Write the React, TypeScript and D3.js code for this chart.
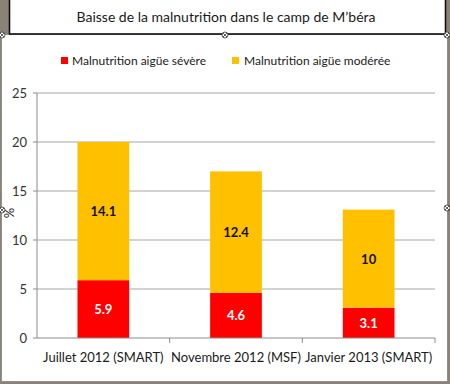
import * as d3 from "d3";

const categories = ["Juillet 2012 (SMART)", "Novembre 2012 (MSF)", "Janvier 2013 (SMART)"];
const severe = [5.9, 4.6, 3.1];
const moderate = [14.1, 12.4, 10];
const seriesNames = ["Malnutrition aigüe sévère", "Malnutrition aigüe modérée"];
const seriesColors = ["#ff0000", "#ffc000"];
const yTicks = [0, 5, 10, 15, 20, 25];

const W = 450;
const H = 384;
const PLOT = { left: 37, right: 435, top: 93, bottom: 338 };
const FONT = "Lato, 'Open Sans', sans-serif";

export default function App() {
  const x = d3
    .scaleBand<string>()
    .domain(categories)
    .range([PLOT.left, PLOT.right])
    .paddingInner(0.61)
    .paddingOuter(0.305);
  const y = d3.scaleLinear().domain([0, 25]).range([PLOT.bottom, PLOT.top]);

  const stack = d3
    .stack<number>()
    .keys(["severe", "moderate"])
    .value((i, key) => (key === "severe" ? severe[i] : moderate[i]));
  const layers = stack(categories.map((_, i) => i));

  // band boundaries for the x tick marks
  const step = x.step();
  const boundaries = categories.map((_, i) => PLOT.left + step * (i + 1));

  const handles = [
    [2, 35],
    [225, 35],
    [447, 35],
    [447, 208],
    [2, 210],
  ];

  return (
    <svg
      width={W}
      height={H}
      style={{ position: "absolute", left: 0, top: 0 }}
      fontFamily={FONT}
    >
      <rect width={W} height={H} fill="#8a8276" />
      {/* chart frame */}
      <rect x={1.5} y={34.5} width={446} height={347} fill="#fff" stroke="#8f8f8f" />
      {/* title box */}
      <rect x={9.5} y={-2} width={436} height={36} fill="#fff" stroke="#111" strokeWidth={1.6} />
      <text x={226} y={22} textAnchor="middle" fontSize={14} fill="#1a1a1a">
        Baisse de la malnutrition dans le camp de M’béra
      </text>

      {/* legend */}
      <g fontSize={12} fill="#1a1a1a">
        <rect x={61} y={57} width={7} height={7} fill={seriesColors[0]} />
        <text x={72} y={65}>{seriesNames[0]}</text>
        <rect x={232} y={57} width={7} height={7} fill={seriesColors[1]} />
        <text x={244} y={65}>{seriesNames[1]}</text>
      </g>

      {/* gridlines */}
      {yTicks.slice(1).map((t) => (
        <line key={t} x1={PLOT.left} x2={PLOT.right} y1={y(t)} y2={y(t)} stroke="#a6a6a6" />
      ))}
      {/* y axis */}
      <line x1={PLOT.left} x2={PLOT.left} y1={PLOT.top} y2={PLOT.bottom} stroke="#8c8c8c" />
      {yTicks.map((t) => (
        <g key={t}>
          <line x1={PLOT.left - 4} x2={PLOT.left} y1={y(t)} y2={y(t)} stroke="#8c8c8c" />
          <text x={27} y={y(t) + 4.5} textAnchor="end" fontSize={13} fill="#333">
            {t}
          </text>
        </g>
      ))}
      <text
        transform={`translate(14,${213}) rotate(-90)`}
        textAnchor="middle"
        fontSize={13}
        fill="#222"
      >
        %
      </text>

      {/* bars */}
      {layers.map((layer, li) =>
        layer.map((d, i) => (
          <rect
            key={`${li}-${i}`}
            x={x(categories[i])}
            y={y(d[1])}
            width={x.bandwidth()}
            height={y(d[0]) - y(d[1])}
            fill={seriesColors[li]}
          />
        ))
      )}
      {layers.map((layer, li) =>
        layer.map((d, i) => (
          <text
            key={`l${li}-${i}`}
            x={(x(categories[i]) ?? 0) + x.bandwidth() / 2}
            y={(y(d[0]) + y(d[1])) / 2 + 5}
            textAnchor="middle"
            fontSize={13}
            fontWeight="bold"
            fill={li === 0 ? "#fff" : "#111"}
          >
            {li === 0 ? severe[i] : moderate[i]}
          </text>
        ))
      )}

      {/* x axis */}
      <line x1={PLOT.left} x2={PLOT.right} y1={PLOT.bottom} y2={PLOT.bottom} stroke="#8c8c8c" />
      {boundaries.map((bx) => (
        <line key={bx} x1={bx} x2={bx} y1={PLOT.bottom} y2={PLOT.bottom + 5} stroke="#8c8c8c" />
      ))}
      {categories.map((c) => (
        <text
          key={c}
          x={(x(c) ?? 0) + x.bandwidth() / 2}
          y={362}
          textAnchor="middle"
          fontSize={13}
          fill="#1a1a1a"
        >
          {c}
        </text>
      ))}

      {/* selection handles */}
      {handles.map(([hx, hy], i) => (
        <g key={i} stroke="#333" fill="#fff" strokeWidth={0.8}>
          <circle cx={hx} cy={hy} r={3} />
          <line x1={hx - 2} y1={hy - 2} x2={hx + 2} y2={hy + 2} />
          <line x1={hx - 2} y1={hy + 2} x2={hx + 2} y2={hy - 2} />
        </g>
      ))}
    </svg>
  );
}
